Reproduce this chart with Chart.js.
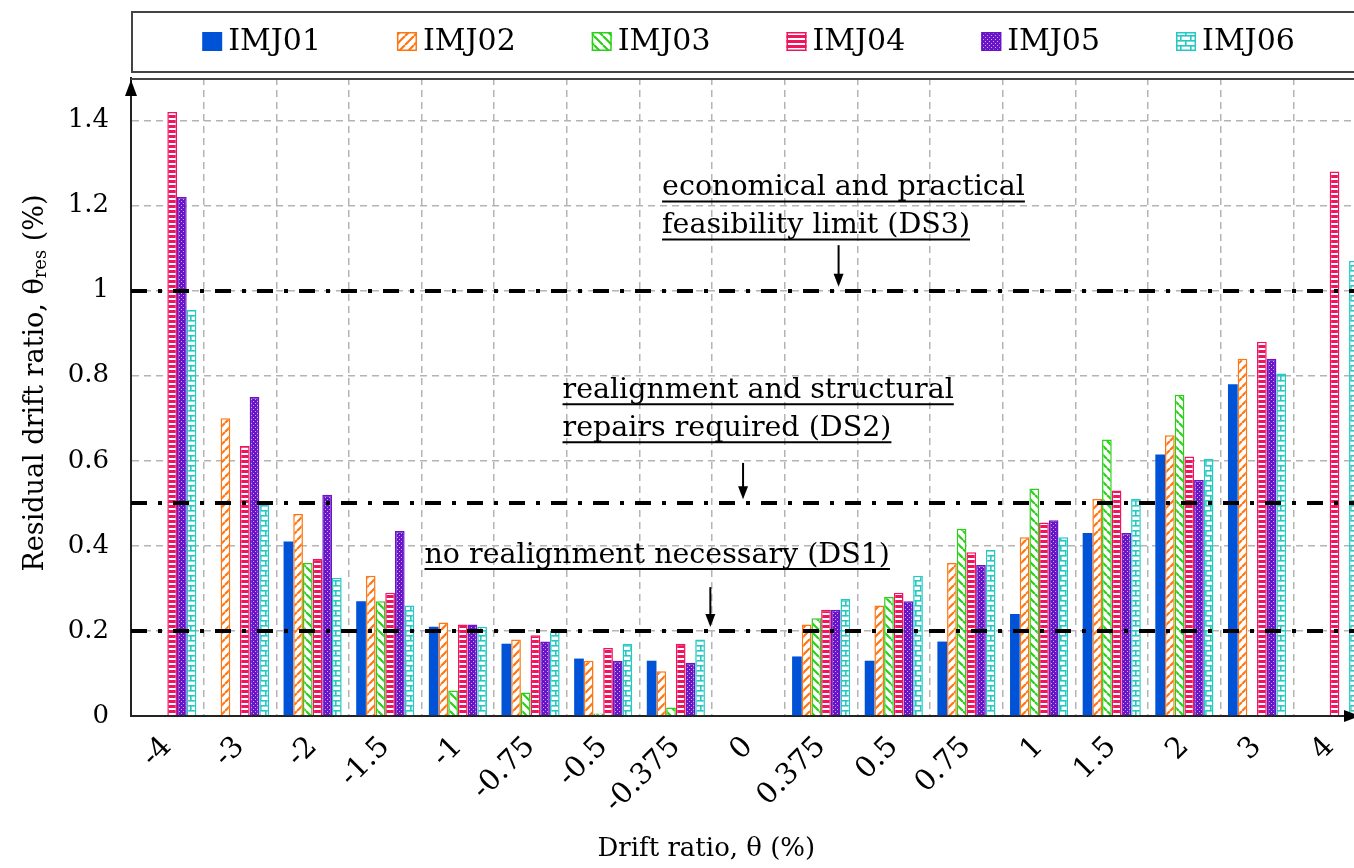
<!DOCTYPE html>
<html lang="en">
<head>
<meta charset="UTF-8">
<title>Residual drift ratio</title>
<script src="https://cdn.jsdelivr.net/npm/chart.js"></script>
<style>
  html, body { margin: 0; padding: 0; background: #fff; overflow: hidden; }
  .chart-container { width: 1366px; height: 868px; position: relative; }
</style>
</head>
<body>
<div class="chart-container"><canvas id="driftChart"></canvas></div>
<script>
// drift ratio steps (%)
const drifts = ['-4', '-3', '-2', '-1.5', '-1', '-0.75', '-0.5', '-0.375', '0',
                '0.375', '0.5', '0.75', '1', '1.5', '2', '3', '4'];

// residual drift ratio per specimen (%), null = no bar
const imj01 = [null, null, 0.41, 0.27, 0.21, 0.17, 0.135, 0.13, null, 0.14, 0.13, 0.175, 0.24, 0.43, 0.615, 0.78, null];
const imj02 = [null, 0.70, 0.475, 0.33, 0.22, 0.18, 0.13, 0.105, null, 0.215, 0.26, 0.36, 0.42, 0.51, 0.66, 0.84, null];
const imj03 = [null, null, 0.36, 0.27, 0.06, 0.055, 0.006, 0.02, null, 0.23, 0.28, 0.44, 0.535, 0.65, 0.755, null, null];
const imj04 = [1.42, 0.635, 0.37, 0.29, 0.215, 0.19, 0.16, 0.17, null, 0.25, 0.29, 0.385, 0.455, 0.53, 0.61, 0.88, 1.28];
const imj05 = [1.22, 0.75, 0.52, 0.435, 0.215, 0.175, 0.13, 0.125, null, 0.25, 0.27, 0.355, 0.46, 0.43, 0.555, 0.84, null];
const imj06 = [0.955, 0.50, 0.325, 0.26, 0.21, 0.20, 0.17, 0.18, null, 0.275, 0.33, 0.39, 0.42, 0.51, 0.605, 0.805, 1.07];

const seriesNames = ['IMJ01', 'IMJ02', 'IMJ03', 'IMJ04', 'IMJ05', 'IMJ06'];
const yTicks = [0, 0.2, 0.4, 0.6, 0.8, 1, 1.2, 1.4];

// damage state limits
const limitValues = [1, 0.5, 0.2];
const limitTexts = [
  ['economical and practical', 'feasibility limit (DS3)'],
  ['realignment and structural', 'repairs required (DS2)'],
  ['no realignment necessary (DS1)']
];

const FONT = '"DejaVu Serif", "Liberation Serif", serif';

// hatch fills
function makeFill(kind, color) {
  if (kind === 'solid') return color;
  const c = document.createElement('canvas');
  const g = c.getContext('2d');
  if (kind === 'slash' || kind === 'backslash') {
    c.width = c.height = 9;
    g.fillStyle = '#fff'; g.fillRect(0, 0, 9, 9);
    g.strokeStyle = color; g.lineWidth = 2.2;
    g.beginPath();
    for (let k = -9; k <= 9; k += 9) {
      if (kind === 'slash') { g.moveTo(k, 9); g.lineTo(k + 9, 0); }
      else { g.moveTo(k, 0); g.lineTo(k + 9, 9); }
    }
    g.stroke();
  } else if (kind === 'hstripe') {
    c.width = 4; c.height = 5;
    g.fillStyle = color; g.fillRect(0, 0, 4, 3);
    g.fillStyle = '#fff'; g.fillRect(0, 3, 4, 2);
  } else if (kind === 'dots') {
    c.width = c.height = 4;
    g.fillStyle = color; g.fillRect(0, 0, 4, 4);
    g.fillStyle = '#c8a8f0'; g.fillRect(1, 1, 1, 1); g.fillRect(3, 3, 1, 1);
  } else if (kind === 'brick') {
    c.width = 10; c.height = 10;
    g.fillStyle = '#fff'; g.fillRect(0, 0, 10, 10);
    g.fillStyle = color;
    g.fillRect(0, 0, 10, 1.6); g.fillRect(0, 5, 10, 1.6);
    g.fillRect(5, 0, 1.6, 5); g.fillRect(0, 5, 1.6, 5);
  }
  return g.createPattern(c, 'repeat');
}

const colors = ['#0052d6', '#ff7512', '#2ad018', '#f0145c', '#6a14c8', '#25c8c2'];
const kinds = ['solid', 'slash', 'backslash', 'hstripe', 'dots', 'brick'];
const values = [imj01, imj02, imj03, imj04, imj05, imj06];

const datasets = seriesNames.map((name, i) => ({
  label: name,
  data: values[i],
  backgroundColor: makeFill(kinds[i], colors[i]),
  borderColor: colors[i],
  borderWidth: i === 0 ? 0 : 1.5,
  categoryPercentage: 0.8,
  barPercentage: 1.0
}));

// annotation placement (x in category index units, y in data units)
const notePlaces = [
  { textX: 6.81, textY: 1.224, arrowX: 9.24, arrowFrom: 1.107, arrowTo: 1.0 },
  { textX: 5.44, textY: 0.747, arrowX: 7.925, arrowFrom: 0.595, arrowTo: 0.5 },
  { textX: 3.54, textY: 0.36, arrowX: 7.475, arrowFrom: 0.303, arrowTo: 0.2 }
];
const xTitlePlace = 7.42;

const decorations = {
  id: 'decorations',
  afterDatasetsDraw(chart) {
    const { ctx, chartArea: a, scales: { x, y } } = chart;
    ctx.save();
    // dash-dot limit lines
    ctx.strokeStyle = '#000';
    ctx.lineWidth = 4;
    ctx.setLineDash([16, 11, 4, 11]);
    limitValues.forEach(v => {
      const py = Math.round(y.getPixelForValue(v));
      ctx.beginPath(); ctx.moveTo(a.left, py); ctx.lineTo(a.right, py); ctx.stroke();
    });
    ctx.setLineDash([]);

    // texts, underlines and arrows
    ctx.fillStyle = '#000';
    ctx.font = '28.5px ' + FONT;
    ctx.textBaseline = 'alphabetic';
    notePlaces.forEach((p, i) => {
      const tx = x.getPixelForValue(p.textX);
      let ty = y.getPixelForValue(p.textY);
      limitTexts[i].forEach(line => {
        ctx.fillText(line, tx, ty);
        const w = ctx.measureText(line).width;
        ctx.lineWidth = 2;
        ctx.beginPath(); ctx.moveTo(tx, ty + 6); ctx.lineTo(tx + w, ty + 6); ctx.stroke();
        ty += 38;
      });
      const ax = x.getPixelForValue(p.arrowX);
      const y1 = y.getPixelForValue(p.arrowFrom);
      const y2 = y.getPixelForValue(p.arrowTo) - 4;
      ctx.lineWidth = 2;
      ctx.beginPath(); ctx.moveTo(ax, y1); ctx.lineTo(ax, y2 - 10); ctx.stroke();
      ctx.beginPath(); ctx.moveTo(ax - 5, y2 - 13); ctx.lineTo(ax + 5, y2 - 13); ctx.lineTo(ax, y2); ctx.closePath(); ctx.fill();
    });
    ctx.restore();
  },
  afterDraw(chart) {
    const { ctx, chartArea: a, scales: { x } } = chart;
    ctx.save();
    // top frame line of plot
    ctx.strokeStyle = '#444';
    ctx.lineWidth = 2;
    ctx.beginPath(); ctx.moveTo(a.left, a.top + 1); ctx.lineTo(a.right + 10, a.top + 1); ctx.stroke();
    // axis arrows
    ctx.fillStyle = '#000';
    ctx.beginPath(); ctx.moveTo(a.left - 6, a.top + 18); ctx.lineTo(a.left + 6, a.top + 18); ctx.lineTo(a.left, a.top + 2); ctx.closePath(); ctx.fill();
    ctx.beginPath(); ctx.moveTo(a.right - 22, a.bottom - 6); ctx.lineTo(a.right - 22, a.bottom + 6); ctx.lineTo(a.right - 6, a.bottom); ctx.closePath(); ctx.fill();

    // legend frame and items
    ctx.lineWidth = 2;
    ctx.strokeStyle = '#444';
    ctx.strokeRect(a.left + 1, 12, a.right - a.left + 20, 60);
    ctx.font = '30px ' + FONT;
    ctx.textBaseline = 'middle';
    const gap = 76, box = 20, space = 6;
    const widths = chart.data.datasets.map(ds => box + space + ctx.measureText(ds.label).width);
    const total = widths.reduce((s, w) => s + w, 0) + gap * (widths.length - 1);
    let lx = (a.left + a.right) / 2 - total / 2;
    chart.data.datasets.forEach((ds, i) => {
      ctx.fillStyle = ds.backgroundColor;
      ctx.fillRect(lx, 32, box, 19);
      if (ds.borderWidth) {
        ctx.strokeStyle = ds.borderColor; ctx.lineWidth = 1.5;
        ctx.strokeRect(lx + 0.75, 32.75, box - 1.5, 17.5);
      }
      ctx.fillStyle = '#000';
      ctx.fillText(ds.label, lx + box + space, 42);
      lx += widths[i] + gap;
    });

    // x axis title
    ctx.font = '26px ' + FONT;
    ctx.textAlign = 'center';
    ctx.textBaseline = 'middle';
    ctx.fillText('Drift ratio, θ (%)', x.getPixelForValue(xTitlePlace), 849);
    ctx.textAlign = 'left';

    // y axis title with subscript
    const cy = (a.top + a.bottom) / 2 - 14;
    const parts = [['Residual drift ratio, θ', '27px ' + FONT, 0], ['res', '18px ' + FONT, 5], [' (%)', '27px ' + FONT, 0]];
    let len = 0;
    parts.forEach(p => { ctx.font = p[1]; len += ctx.measureText(p[0]).width; });
    ctx.translate(36, cy);
    ctx.rotate(-Math.PI / 2);
    let px = -len / 2;
    parts.forEach(p => {
      ctx.font = p[1];
      ctx.fillText(p[0], px, p[2]);
      px += ctx.measureText(p[0]).width;
    });
    ctx.restore();
  }
};

const ctx = document.getElementById('driftChart').getContext('2d');
const driftChart = new Chart(ctx, {
  type: 'bar',
  data: { labels: drifts, datasets: datasets },
  plugins: [decorations],
  options: {
    responsive: true,
    maintainAspectRatio: false,
    animation: false,
    layout: { padding: { top: 78, left: 0, right: 0, bottom: 0 } },
    plugins: {
      legend: { display: false },
      tooltip: { enabled: false }
    },
    scales: {
      x: {
        grid: { color: '#b4b4b4', lineWidth: 1.5, drawTicks: false },
        border: { color: '#222', width: 2, dash: [7, 5] },
        ticks: {
          color: '#000', font: { family: FONT, size: 29 },
          minRotation: 45, maxRotation: 45, autoSkip: false, padding: 14
        },
        afterFit(scale) {
          scale.height = 152;
          scale.paddingLeft = 0; scale.paddingRight = 0;
        }
      },
      y: {
        min: 0, max: 1.5,
        grid: { color: '#b4b4b4', lineWidth: 1.5, drawTicks: false },
        border: { color: '#222', width: 2, dash: [7, 5] },
        ticks: {
          color: '#000', font: { family: FONT, size: 26 }, padding: 22,
          stepSize: 0.2,
          callback: v => String(Number(v.toFixed(1)))
        },
        afterBuildTicks(scale) {
          scale.ticks = yTicks.map(v => ({ value: v }));
        },
        afterFit(scale) {
          scale.width = 131;
          scale.paddingTop = 0; scale.paddingBottom = 0;
        }
      }
    }
  }
});
</script>
</body>
</html>
